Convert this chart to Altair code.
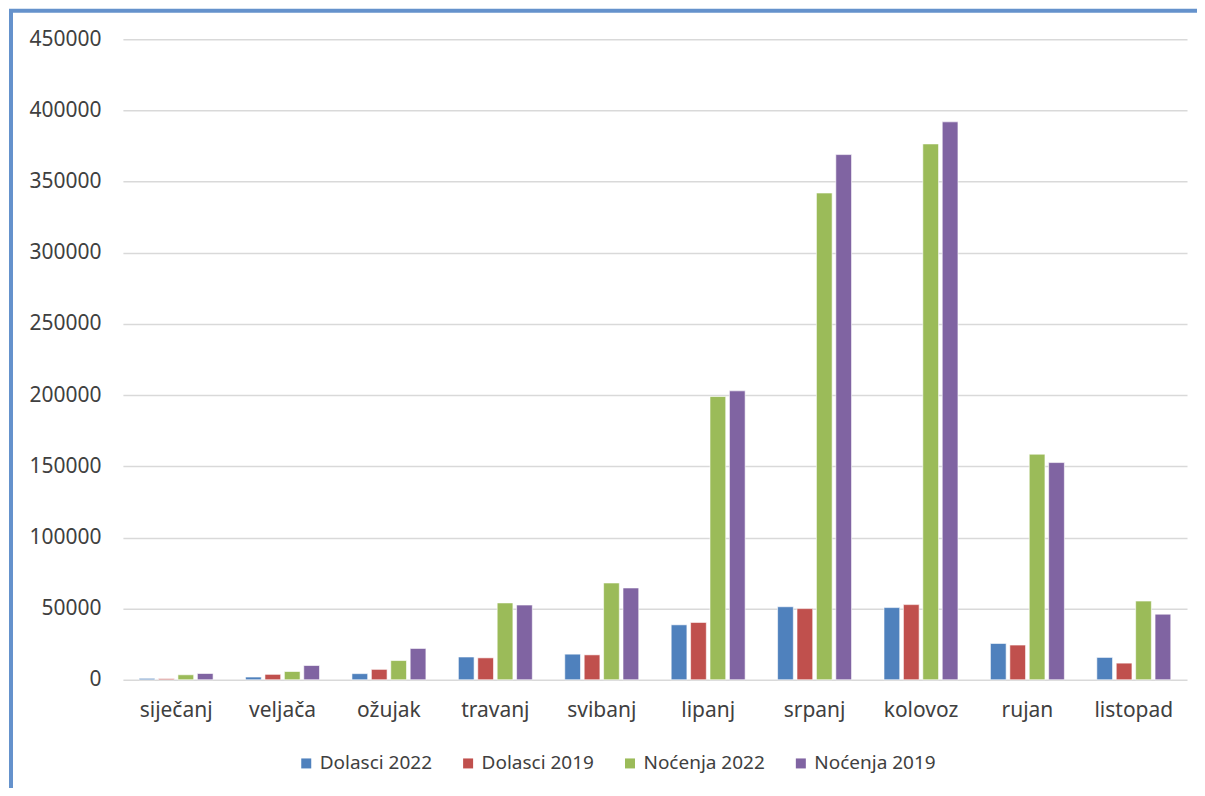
import altair as alt
import pandas as pd

months = ["siječanj", "veljača", "ožujak", "travanj", "svibanj", "lipanj",
          "srpanj", "kolovoz", "rujan", "listopad"]
series_names = ["Dolasci 2022", "Dolasci 2019", "Noćenja 2022", "Noćenja 2019"]
series_colors = ["#4F81BD", "#C0504D", "#9BBB59", "#8064A2"]

dolasci_2022 = [1000, 1900, 4300, 16000, 18000, 38600, 51300, 50700, 25500, 15700]
dolasci_2019 = [800, 3800, 7300, 15400, 17500, 40300, 50000, 52800, 24400, 11700]
nocenja_2022 = [3500, 5800, 13500, 54000, 68000, 199000, 342000, 376500, 158500, 55300]
nocenja_2019 = [4400, 10000, 22000, 52500, 64500, 203000, 369000, 392000, 152600, 46100]

y_ticks = [0, 50000, 100000, 150000, 200000, 250000, 300000, 350000, 400000, 450000]

rows = []
for name, vals in zip(series_names, [dolasci_2022, dolasci_2019, nocenja_2022, nocenja_2019]):
    for m, v in zip(months, vals):
        rows.append({"mjesec": m, "serija": name, "vrijednost": v})
df = pd.DataFrame(rows)

FONT = "Noto Sans"
TXT = "#404040"
W, H = 1065, 641

bars = alt.Chart(df).mark_bar(stroke="white", strokeWidth=0.6).encode(
    x=alt.X("mjesec:N", sort=months, title=None,
            scale=alt.Scale(paddingInner=0.305, paddingOuter=0.1525),
            axis=alt.Axis(labelAngle=0, domain=False, ticks=False, labelPadding=20,
                          labelFontSize=21, labelFont=FONT, labelColor=TXT, grid=False)),
    xOffset=alt.XOffset("serija:N", sort=series_names,
                        scale=alt.Scale(paddingInner=0.19, paddingOuter=0)),
    y=alt.Y("vrijednost:Q", title=None,
            scale=alt.Scale(domain=[0, 450000], nice=False),
            axis=alt.Axis(values=y_ticks, format="d", domain=False, ticks=False,
                          labelPadding=22, labelFontSize=21, labelFont=FONT,
                          labelColor=TXT, gridColor="#D9D9D9", gridWidth=1.5)),
    color=alt.Color("serija:N", sort=series_names,
                    scale=alt.Scale(domain=series_names, range=series_colors),
                    legend=alt.Legend(title=None, orient="none", direction="horizontal",
                                      legendX=174, legendY=715, symbolType="square",
                                      symbolSize=100, symbolStrokeWidth=0,
                                      labelFontSize=19, labelFont=FONT, labelColor=TXT,
                                      columnPadding=26, labelOffset=4, padding=0)),
)

frame = alt.Chart(alt.Data(values=[{"a": 1}])).mark_rect(
    fillOpacity=0, stroke="#6592CC", strokeWidth=4, clip=False
).encode(
    x=alt.value(-112), x2=alt.value(1300),
    y=alt.value(-28.5), y2=alt.value(1000),
)

chart = alt.layer(bars, frame).properties(
    width=W, height=H,
    autosize=alt.AutoSizeParams(type="none"),
    padding={"left": 115, "top": 31, "right": 10, "bottom": 108},
    background="white",
).configure_view(stroke=None)

chart.save("out.html", embed_options={"renderer": "svg", "actions": False})
